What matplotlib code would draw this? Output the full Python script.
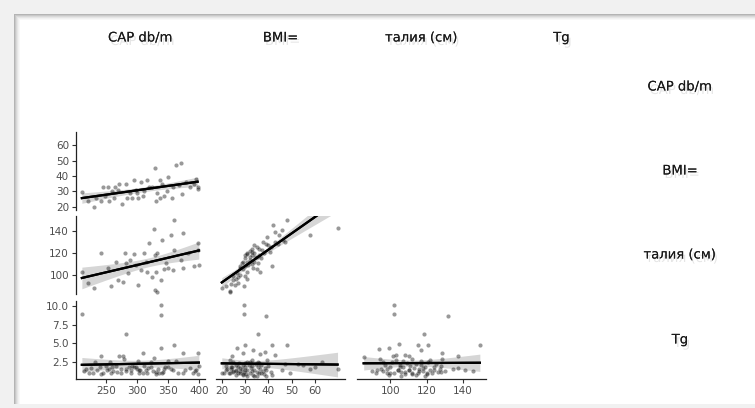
import matplotlib
matplotlib.use("Agg")
import matplotlib.pyplot as plt
import matplotlib.patheffects as pe
import numpy as np
from matplotlib.patches import Rectangle

# variable names (column strips on top, row strips on the right)
var_names = ["CAP db/m", "BMI=", "талия (см)", "Tg"]

# --- CAP vs BMI (row 2, col 1)
cap_b = [211, 221, 231, 234, 242, 245, 254, 255, 263, 265, 271, 276, 282, 284, 295, 292,
         300, 302, 307, 309, 317, 320, 329, 330, 332, 338, 338, 343, 351, 359, 363, 356,
         371, 373, 385, 396, 398, 398, 248, 260, 270, 288, 298, 312, 325, 340, 348, 368,
         380, 392]
bmi_c = [29.5, 24, 20, 25.6, 24, 32.8, 33.2, 24, 26, 32.8, 35, 22, 35, 26, 37.4, 26,
         29, 26, 36, 27, 37.4, 33, 45.5, 24, 29, 37.4, 26, 27, 39.5, 33, 47, 26,
         48.5, 28.5, 33, 38, 33, 31.5, 27, 30, 31, 29, 31, 30, 33, 35, 30, 34,
         36, 35]

# --- CAP vs waist (row 3, col 1)
cap_w = [211, 221.5, 231, 242, 253, 258, 266, 269, 277, 281, 282, 288, 285, 295.7, 298, 301,
         306, 312, 314.5, 317, 320, 325, 328, 329, 330.6, 333, 329, 339, 341, 343, 346.8,
         349.5, 355, 360, 360, 357.5, 373.7, 375, 371, 381.8, 392.5, 399, 400, 398]
waist_c = [103, 92.4, 88, 120, 106, 90, 112, 95.5, 94, 119.7, 110.6, 113.6, 101.5, 119, 109, 91,
           104.5, 119.7, 112, 103, 128.8, 98.5, 141.5, 118, 103, 119.7, 86.4, 95.5, 131.8, 105,
           110.6, 106, 136, 150, 122.7, 104.5, 137.9, 106, 113.6, 119.7, 108, 128.8, 109, 122.7]

# --- BMI vs waist (row 3, col 2)
bmi_w = [20, 23.6, 25, 26.4, 25.7, 27.8, 29.3, 28.6, 30, 30.7, 31.4, 32, 32.9, 33.5, 34.3,
         35, 35.7, 36.4, 37.1, 37.8, 39.3, 40, 40.7, 41.4, 42.1, 42.8, 44.3, 45.7, 46.4,
         47.1, 47.9, 57.8, 70,
         29, 30, 31, 32, 33, 34, 31, 33, 28, 27, 26, 30, 32, 34, 35, 36, 30, 29, 31, 33,
         34, 38, 37, 24, 25, 27, 28, 36, 39, 41, 43, 44, 22, 31, 35]
waist_b = [88, 85.5, 95.5, 101.5, 91, 106, 90, 110.6, 115, 119.7, 109, 113.6, 121, 106, 116.6,
           125.7, 110.6, 103, 122.7, 130, 134.8, 127, 121, 108, 145.5, 139, 136, 141, 131.8,
           130, 150, 136, 142.5,
           105, 108, 112, 116, 118, 120, 103, 110, 100, 98, 96, 118, 122, 112, 116, 118, 99,
           112, 119, 124, 127, 120, 115, 92, 99, 93, 108, 124, 128, 125, 130, 128, 90, 96, 105]

# --- CAP vs Tg (row 4, col 1)
cap_t = [211, 218, 223, 228.5, 232.7, 242, 242, 250, 255, 257, 258, 266, 271.5, 274, 277,
         279.5, 282, 282, 287.6, 290, 292.7, 298, 301, 303, 309, 311.8, 314.5, 317, 322.6,
         323.5, 328, 330.6, 331, 338.7, 338.7, 338.7, 333, 341, 343, 349.5, 355, 360, 363,
         373.7, 373.7, 389.8, 395, 399, 400, 398, 262, 305, 345,
         215, 225, 236, 245, 252, 260, 268, 275, 283, 290, 296, 304, 310, 318, 326, 334,
         342, 350, 358, 366, 378, 386, 394, 240, 300, 336]
tg_c = [9.0, 1.5, 1.0, 0.9, 2.4, 3.3, 0.8, 1.9, 1.5, 2.4, 0.95, 1.9, 3.3, 1.0, 3.3,
        2.8, 6.2, 1.5, 1.7, 1.0, 1.9, 1.7, 2.6, 1.0, 3.7, 1.9, 1.3, 1.0, 2.4,
        1.7, 3.0, 0.8, 1.1, 10.1, 8.8, 4.3, 11.9, 1.0, 1.5, 2.6, 1.5, 4.8, 2.6,
        3.6, 1.0, 1.0, 1.3, 3.7, 1.9, 0.8, 1.2, 1.4, 1.8,
        1.2, 1.6, 1.3, 1.0, 1.4, 1.7, 1.1, 1.5, 1.2, 1.4, 1.8, 1.3, 1.0, 1.6, 1.2, 1.5,
        1.1, 1.7, 1.3, 1.0, 1.4, 1.6, 1.2, 1.8, 1.5, 1.0]

# --- BMI vs Tg (row 4, col 2)
bmi_t = [29.3, 29.3, 38.9, 35.3, 30, 26.4, 41.4, 47.9, 29, 33.5, 36.4, 38.6, 42.8, 24.3,
         23.6, 25, 30.7, 32.9, 35.7, 39.3, 47.1, 52.8, 20, 22.1, 23.6, 45.7, 49.3, 57.8,
         69.6, 41.7, 23.6,
         26, 27, 28, 28.5, 29, 29.5, 30, 30.5, 31, 31.5, 32, 32.5, 33, 33.5, 34, 34.5, 35,
         35.5, 36, 36.5, 37, 37.5, 38, 38.5, 39, 40, 30, 32, 34, 36, 27.5, 29, 31, 33, 35,
         37, 39, 41, 26, 24.5,
         21, 22, 23, 24, 25, 26, 27, 28, 29, 30, 24, 26, 28, 22, 25, 55, 63, 60]
tg_b = [10.1, 9.0, 8.7, 6.2, 4.8, 4.3, 4.7, 4.8, 3.6, 4.1, 3.5, 3.8, 3.4, 3.2,
        2.7, 2.5, 2.5, 2.7, 2.5, 2.7, 2.2, 2.2, 0.9, 1.5, 1.0, 1.3, 1.0, 1.5,
        1.5, 0.7, 11.9,
        1.2, 1.8, 0.9, 1.5, 2.0, 1.1, 1.7, 0.8, 1.4, 2.1, 1.0, 1.6, 1.9, 0.7, 1.3, 2.2, 1.1,
        1.7, 0.9, 1.5, 2.0, 1.2, 0.8, 1.6, 1.3, 1.9, 2.3, 2.4, 0.6, 2.3, 2.3, 0.7, 0.6, 1.2,
        0.6, 1.0, 0.6, 1.1, 2.1, 1.8,
        1.0, 1.3, 0.9, 1.5, 1.1, 1.4, 1.0, 1.2, 0.8, 1.3, 1.8, 0.7, 1.6, 1.9, 1.2, 2.0, 2.4, 1.7]

# --- waist vs Tg (row 4, col 3)
waist_t = [101.9, 101.9, 132, 118.5, 104.6, 115.4, 121, 149.4, 93.9, 99, 116.7, 128.7, 85.2,
           94.4, 101.4, 102.8, 108, 110, 137.6, 128.7, 145.8, 134.3, 137.6, 141, 127.6, 89.8,
           92.6,
           95, 97, 98, 100, 101, 102, 104, 105, 106, 107, 108, 109, 110, 111, 112, 113, 114,
           115, 116, 117, 118, 119, 120, 121, 122, 123, 124, 125, 103, 107, 112, 117, 122, 99,
           106, 114, 119, 126, 128, 96,
           92, 96, 100, 104, 108, 112, 116, 120, 124, 128, 98, 110, 118, 130, 105]
tg_w = [10.1, 9.0, 8.7, 6.3, 4.9, 4.7, 4.7, 4.8, 4.2, 4.4, 4.0, 3.7, 3.1,
        2.9, 3.2, 3.4, 3.4, 3.3, 3.2, 2.8, 1.25, 1.5, 1.6, 1.4, 1.5, 1.25,
        1.4,
        1.5, 2.1, 1.0, 1.7, 2.4, 0.9, 1.4, 2.0, 1.1, 1.8, 0.8, 2.3, 1.3, 1.9, 1.0, 1.6, 2.2,
        0.9, 1.5, 2.0, 1.2, 1.7, 0.8, 2.4, 1.4, 1.0, 1.8, 2.2, 2.7, 2.6, 2.8, 2.6, 2.7, 0.7,
        0.6, 0.7, 0.6, 1.1, 1.9, 2.5,
        1.0, 1.2, 0.9, 1.3, 1.1, 0.8, 1.2, 1.0, 1.3, 1.1, 1.5, 1.4, 1.6, 1.2, 1.7]

# axis limits per variable (x when in a column, y when in a row)
x_lims = {0: (201.5, 410), 1: (17.5, 72.8), 2: (81.5, 152.8)}
y_lims = {1: (18.0, 68.5), 2: (82.7, 153.6), 3: (0.14, 10.7)}
x_ticks = {0: [250, 300, 350, 400], 1: [20, 30, 40, 50, 60], 2: [100, 120, 140]}
y_ticks = {1: [20, 30, 40, 50, 60], 2: [100, 120, 140], 3: [2.5, 5.0, 7.5, 10.0]}
y_ticklabels = {1: None, 2: None, 3: ["2.5", "5.0", "7.5", "10.0"]}

panels = [
    (1, 0, cap_b, bmi_c),
    (2, 0, cap_w, waist_c),
    (2, 1, bmi_w, waist_b),
    (3, 0, cap_t, tg_c),
    (3, 1, bmi_t, tg_b),
    (3, 2, waist_t, tg_w),
]

W, H = 755, 408
col_left = [76, 216, 357, 497]
col_w = 129
row_top = [48, 132, 216, 301]
row_h = 78

plt.rcParams["font.family"] = ["DejaVu Sans"]

fig = plt.figure(figsize=(W / 100, H / 100), dpi=100)
fig.patch.set_facecolor("#f1f1f1")

# white sheet with an inset shadow on the left/top edges
fig.add_artist(Rectangle((14 / W, 1 - 404 / H), 1, (404 - 14) / H,
                         transform=fig.transFigure, facecolor="white", edgecolor="none", zorder=0))
for i, a in enumerate([0.55, 0.4, 0.28, 0.18, 0.1, 0.05]):
    fig.add_artist(Rectangle(((14 + i) / W, 1 - 404 / H), 1 / W, (404 - 14 - i) / H,
                             transform=fig.transFigure, facecolor="#777", alpha=a,
                             edgecolor="none", zorder=1))
    fig.add_artist(Rectangle(((15 + i) / W, 1 - (15 + i) / H), 1, 1 / H,
                             transform=fig.transFigure, facecolor="#777", alpha=a,
                             edgecolor="none", zorder=1))

shadow = [pe.withSimplePatchShadow(offset=(1.5, -2.5), shadow_rgbFace="#aaa", alpha=0.3), pe.Normal()]


def fit_band(x, y, xs):
    x = np.asarray(x, float)
    y = np.asarray(y, float)
    b, a = np.polyfit(x, y, 1)
    n = len(x)
    resid = y - (a + b * x)
    s = np.sqrt(np.sum(resid ** 2) / (n - 2))
    sxx = np.sum((x - x.mean()) ** 2)
    se = s * np.sqrt(1 / n + (xs - x.mean()) ** 2 / sxx)
    fit = a + b * xs
    return fit, fit - 1.99 * se, fit + 1.99 * se


for r, c, x, y in panels:
    ax = fig.add_axes([col_left[c] / W, 1 - (row_top[r] + row_h) / H, col_w / W, row_h / H])
    ax.patch.set_alpha(0)
    ax.scatter(x, y, s=9, color="black", alpha=0.4, linewidths=0, clip_on=False, zorder=2)
    xs = np.linspace(min(x), max(x), 100)
    fit, lo, hi = fit_band(x, y, xs)
    ax.fill_between(xs, lo, hi, color="#999999", alpha=0.4, linewidth=0, zorder=1)
    ax.plot(xs, fit, color="black", lw=1.6, zorder=3, path_effects=shadow)
    ax.set_xlim(*x_lims[c])
    ax.set_ylim(*y_lims[r])
    for side in ["top", "right", "left", "bottom"]:
        ax.spines[side].set_visible(False)
    ax.tick_params(length=3, width=0.8, color="#333333", labelsize=7.5,
                   labelcolor="#4d4d4d", pad=2)
    if c == 0:
        ax.spines["left"].set_visible(True)
        ax.spines["left"].set_color("#222222")
        ax.spines["left"].set_linewidth(0.9)
        ax.set_yticks(y_ticks[r])
        if y_ticklabels[r]:
            ax.set_yticklabels(y_ticklabels[r])
    else:
        ax.set_yticks([])
    if r == 3:
        ax.spines["bottom"].set_visible(True)
        ax.spines["bottom"].set_color("#222222")
        ax.spines["bottom"].set_linewidth(0.9)
        ax.set_xticks(x_ticks[c])
    else:
        ax.set_xticks([])

# strip labels
for c, name in enumerate(var_names):
    fig.text((col_left[c] + col_w / 2) / W, 1 - 38 / H, name, ha="center", va="center",
             fontsize=9.5, color="#1a1a1a", path_effects=shadow)
for r, name in enumerate(var_names):
    fig.text(680 / W, 1 - (row_top[r] + row_h / 2) / H, name, ha="center", va="center",
             fontsize=9.5, color="#1a1a1a", path_effects=shadow)

fig.savefig("out.png", dpi=100, facecolor=fig.get_facecolor())
